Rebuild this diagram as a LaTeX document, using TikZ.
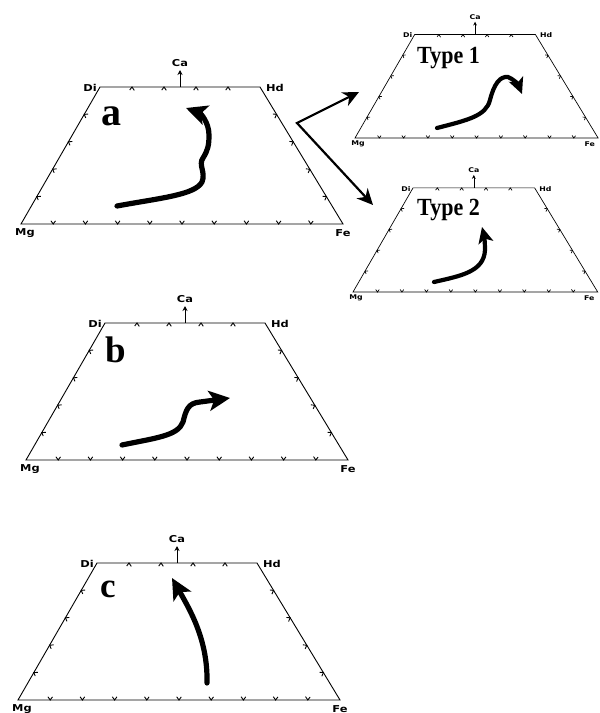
\documentclass[tikz,border=0pt]{standalone}
\usepackage{fontspec}
\setmainfont{Liberation Serif}
\newfontfamily\labfont{DejaVu Sans}
\usetikzlibrary{arrows.meta,calc}

\newcommand\widelab[1]{\scalebox{1.2}[1]{#1}}

\tikzset{
  edge/.style={line width=\elw pt, line join=miter},
  lab/.style={inner sep=0pt, font=\labfont\bfseries\fontsize{\lfs}{\lfs}\selectfont},
  letter/.style={inner sep=0pt, font=\bfseries\fontsize{#1}{#1}\selectfont},
  typelab/.style={inner sep=0pt, font=\bfseries\fontsize{22}{22}\selectfont},
  bigarrow/.style={line width=5.2pt, line cap=round, -{Stealth[length=21pt,width=20pt,inset=5pt]}},
  smallarrow/.style={line width=4.2pt, line cap=round, -{Stealth[length=16pt,width=15pt,inset=4pt]}},
  vline/.style={line width=2.2pt, line join=miter, {Stealth[length=16pt,width=15pt,inset=5pt]}-{Stealth[length=16pt,width=15pt,inset=5pt]}}
}

\newcommand\tickmark[3]{%
  \coordinate (tkP) at ($(#1)!#3!(#2)$);
  \coordinate (tkI) at ($(tkP)!\tka pt!90:(#2)$);
  \draw[edge] ($(tkI)!\tkb pt!(#2)$) -- (tkP) -- ($(tkI)!-\tkb pt!(#2)$);
}

\newcommand\trapz[6]{% name, x, y, scale, font size, Fe label x
  \pgfmathsetmacro\elw{0.9*#4}
  \def\lfs{#5}
  \pgfmathsetmacro\tka{3.2*#4}
  \pgfmathsetmacro\tkb{2.3*#4}
  \pgfmathsetmacro\cah{5*#4}
  \begin{scope}[shift={(#2,#3)},scale=#4]
    \coordinate (#1Mg) at (0,0);
    \coordinate (#1Fe) at (322,0);
    \coordinate (#1Hd) at (239,-137);
    \coordinate (#1Di) at (79,-137);
    \coordinate (#1Ca) at (159,-137);
    \coordinate (#1Ct) at (159,-154);
    \node[lab,anchor=east] (#1LDi) at (76,-136) {\widelab{Di}};
    \node[lab,anchor=west] (#1LHd) at (245,-136) {\widelab{Hd}};
    \node[lab,anchor=north] (#1LMg) at (4,4) {\widelab{Mg}};
    \node[lab,anchor=north] (#1LFe) at (#6,5) {\widelab{Fe}};
    \node[lab,anchor=south] (#1LCa) at (159,-157) {\widelab{Ca}};
  \end{scope}
  \draw[edge] (#1Mg) -- (#1Fe) -- (#1Hd) -- (#1Di) -- cycle;
  \draw[edge,-{Stealth[length=\cah pt,width=\cah pt]}] (#1Ca) -- (#1Ct);
  \foreach \f in {0.1,0.2,0.3,0.4,0.5,0.6,0.7,0.8,0.9} {\tickmark{#1Mg}{#1Fe}{\f}}
  \foreach \f in {0.2,0.4,0.6,0.8} {\tickmark{#1Fe}{#1Hd}{\f}}
  \foreach \f in {0.2,0.4,0.6,0.8} {\tickmark{#1Hd}{#1Di}{\f}}
  \foreach \f in {0.2,0.4,0.6,0.8} {\tickmark{#1Di}{#1Mg}{\f}}
}

\begin{document}
\begin{tikzpicture}[x=1pt,y=-1pt]
  \useasboundingbox (0,0) rectangle (600,713);
  \fill[white] (0,0) rectangle (600,713);

  \trapz{a}{21}{224}{1}{9.5}{322}
  \trapz{b}{26}{460}{1}{9.5}{322}
  \trapz{c}{18}{700}{1}{9.5}{322}
  \trapz{p}{355}{138}{0.755}{6.5}{311}
  \trapz{q}{353}{292}{0.76}{6.5}{311}

  \node[letter=40] (la) at (111,116) {a};
  \node[letter=37] (lb) at (116,350) {b};
  \node[letter=35] (lc) at (108,589) {c};
  \node[typelab,anchor=base] (lt1) at (448.5,63) {\scalebox{1}[1.12]{Type 1}};
  \node[typelab,anchor=base] (lt2) at (448.5,215) {\scalebox{1}[1.12]{Type 2}};

  % trends
  \draw[bigarrow] (117,206) .. controls (160,198) and (195,195) .. (202,182)
     .. controls (206,172) and (198,165) .. (203,158)
     .. controls (208,150) and (209,145) .. (209,135)
     .. controls (209,122) and (200,113) .. (186,108);
  \draw[bigarrow] (122,445) .. controls (155,438) and (178,436) .. (183,422)
     .. controls (186,410) and (188,403) .. (200,402) -- (230,398);
  \draw[bigarrow] (207,683) .. controls (208,640) and (190,610) .. (172,578);
  \draw[smallarrow] (437,128) .. controls (468,120) and (486,116) .. (490,100)
     .. controls (494,84) and (500,76) .. (508,77)
     .. controls (513,79) and (518,84) .. (522,94);
  \draw[smallarrow] (434,282) .. controls (460,276) and (484,272) .. (485,250)
     .. controls (485,242) and (484,235) .. (482,227);

  % branching arrows
  \coordinate (vtx) at (297,123);
  \coordinate (vt1) at (359,92);
  \coordinate (vt2) at (373,205);
  \draw[vline] (vt1) -- (vtx) -- (vt2);
\end{tikzpicture}
\end{document}
